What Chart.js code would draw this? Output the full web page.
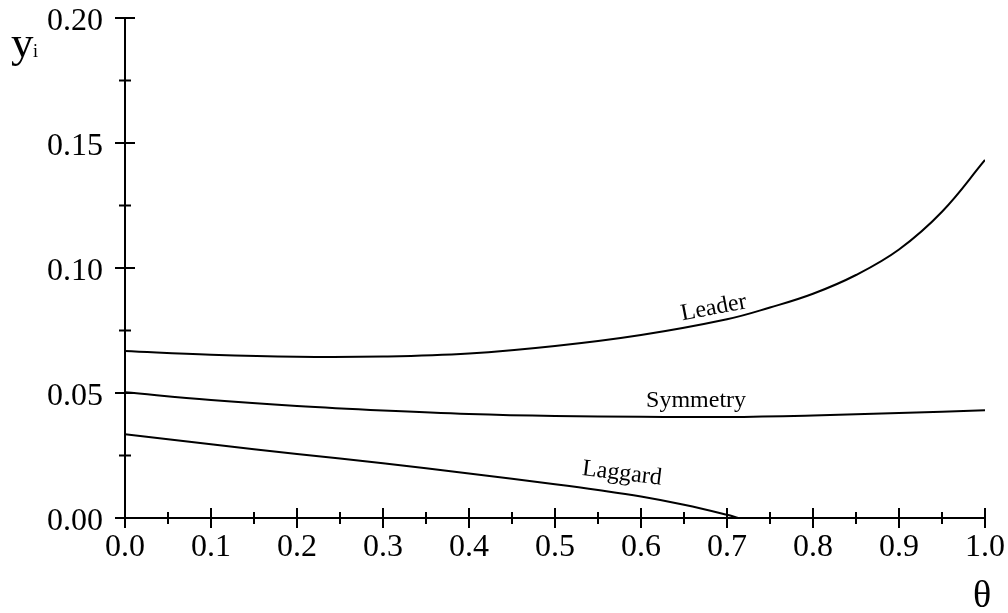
<!DOCTYPE html>
<html>
<head>
<meta charset="utf-8">
<script src="https://cdn.jsdelivr.net/npm/chart.js@4/dist/chart.umd.min.js"></script>
<style>
  html, body { margin: 0; padding: 0; background: #fff; }
  #wrap { width: 1008px; height: 613px; }
</style>
</head>
<body>
<div id="wrap"><canvas id="c" width="1008" height="613"></canvas></div>
<script>
// ---- data ----
const leaderTheta   = [0, 0.1, 0.2, 0.3, 0.4, 0.5, 0.6, 0.7, 0.75, 0.8, 0.85, 0.9, 0.95, 1.0];
const leaderY       = [0.0668, 0.0653, 0.0645, 0.0646, 0.0658, 0.0688, 0.0732, 0.0795, 0.0842, 0.0897, 0.0972, 0.1074, 0.1225, 0.1432];
const symmetryTheta = [0, 0.1, 0.2, 0.3, 0.4, 0.5, 0.6, 0.7, 0.8, 0.9, 1.0];
const symmetryY     = [0.0503, 0.0472, 0.0448, 0.0430, 0.0416, 0.0408, 0.0405, 0.0404, 0.0410, 0.0420, 0.0431];
const laggardTheta  = [0, 0.1, 0.2, 0.3, 0.4, 0.5, 0.55, 0.6, 0.65, 0.7, 0.713];
const laggardY      = [0.0335, 0.0295, 0.0256, 0.0219, 0.0178, 0.0135, 0.0112, 0.0086, 0.0053, 0.0013, 0.0];
const xTicks = [0, 0.1, 0.2, 0.3, 0.4, 0.5, 0.6, 0.7, 0.8, 0.9, 1.0];
const yTicks = [0, 0.05, 0.10, 0.15, 0.20];
const curveLabels = [
  { text: 'Leader',   theta: 0.686, y: 0.0815, angle: -11 },
  { text: 'Symmetry', theta: 0.664, y: 0.0443, angle: 0 },
  { text: 'Laggard',  theta: 0.577, y: 0.0153, angle: 7 }
];

const SERIF = '"Liberation Serif", "Times New Roman", serif';
const toPts = (xs, ys) => xs.map((x, i) => ({ x: x, y: ys[i] }));

const axesPlugin = {
  id: 'axesPlugin',
  afterDraw(chart) {
    const ctx = chart.ctx;
    const xs = chart.scales.x, ys = chart.scales.y;
    const x0 = xs.getPixelForValue(0), x1 = xs.getPixelForValue(1);
    const y0 = ys.getPixelForValue(0), y1 = ys.getPixelForValue(0.2);
    ctx.save();
    ctx.strokeStyle = '#000';
    ctx.lineWidth = 2;
    ctx.beginPath();
    ctx.moveTo(x0, y0); ctx.lineTo(x0, y1);
    ctx.moveTo(x0, y0); ctx.lineTo(x1, y0);
    for (let i = 0; i <= 20; i++) {
      const px = xs.getPixelForValue(i * 0.05);
      const len = (i % 2 === 0) ? 10 : 6;
      ctx.moveTo(px, y0 - len); ctx.lineTo(px, y0 + len);
    }
    for (let i = 0; i <= 8; i++) {
      const py = ys.getPixelForValue(i * 0.025);
      const len = (i % 2 === 0) ? 10 : 6;
      ctx.moveTo(x0 - len, py); ctx.lineTo(x0 + len, py);
    }
    ctx.stroke();

    ctx.fillStyle = '#000';
    ctx.font = '24px ' + SERIF;
    ctx.textAlign = 'center';
    ctx.textBaseline = 'alphabetic';
    curveLabels.forEach(l => {
      const px = xs.getPixelForValue(l.theta), py = ys.getPixelForValue(l.y);
      ctx.save();
      ctx.translate(px, py);
      ctx.rotate(l.angle * Math.PI / 180);
      ctx.fillText(l.text, 0, 0);
      ctx.restore();
    });

    ctx.textAlign = 'left';
    ctx.font = '45px ' + SERIF;
    ctx.fillText('y', 11, 57);
    ctx.font = '18px ' + SERIF;
    ctx.fillText('i', 33, 57);
    ctx.textAlign = 'center';
    ctx.font = '38px ' + SERIF;
    ctx.fillText('\u03B8', 982, 607);
    ctx.restore();
  }
};

const lineDs = (label, xs, ys) => ({
  label: label,
  data: toPts(xs, ys),
  borderColor: '#000',
  borderWidth: 2,
  pointRadius: 0,
  fill: false,
  tension: 0.4
});

function shiftLabels(s, dx, dy) {
  if (s._shifted) return;
  s._shifted = true;
  const orig = s.drawLabels;
  s.drawLabels = function (ca) {
    const c = this.ctx;
    c.save();
    c.translate(dx, dy);
    orig.call(this, ca);
    c.restore();
  };
}

new Chart(document.getElementById('c'), {
  type: 'line',
  data: {
    datasets: [
      lineDs('Leader', leaderTheta, leaderY),
      lineDs('Symmetry', symmetryTheta, symmetryY),
      lineDs('Laggard', laggardTheta, laggardY)
    ]
  },
  options: {
    responsive: false,
    animation: false,
    layout: { padding: { top: 18, right: 23, left: 0, bottom: 0 } },
    plugins: { legend: { display: false }, tooltip: { enabled: false } },
    scales: {
      x: {
        type: 'linear', min: 0, max: 1,
        afterFit(s) { s.height = 95; s.paddingLeft = 0; s.paddingRight = 0; },
        afterBuildTicks(s) { s.ticks = xTicks.map(v => ({ value: v })); },
        grid: { display: false, drawTicks: false },
        border: { display: false },
        ticks: {
          autoSkip: false, maxRotation: 0, padding: 10, color: '#000',
          font: { family: SERIF, size: 32 },
          callback: v => Number(v).toFixed(1)
        }
      },
      y: {
        type: 'linear', min: 0, max: 0.2,
        afterFit(s) { s.width = 125; s.paddingTop = 0; s.paddingBottom = 0; shiftLabels(s, 0, 4); },
        afterBuildTicks(s) { s.ticks = yTicks.map(v => ({ value: v })); },
        grid: { display: false, drawTicks: false },
        border: { display: false },
        ticks: {
          autoSkip: false, padding: 22, color: '#000',
          font: { family: SERIF, size: 32 },
          callback: v => Number(v).toFixed(2)
        }
      }
    }
  },
  plugins: [axesPlugin]
});
</script>
</body>
</html>
